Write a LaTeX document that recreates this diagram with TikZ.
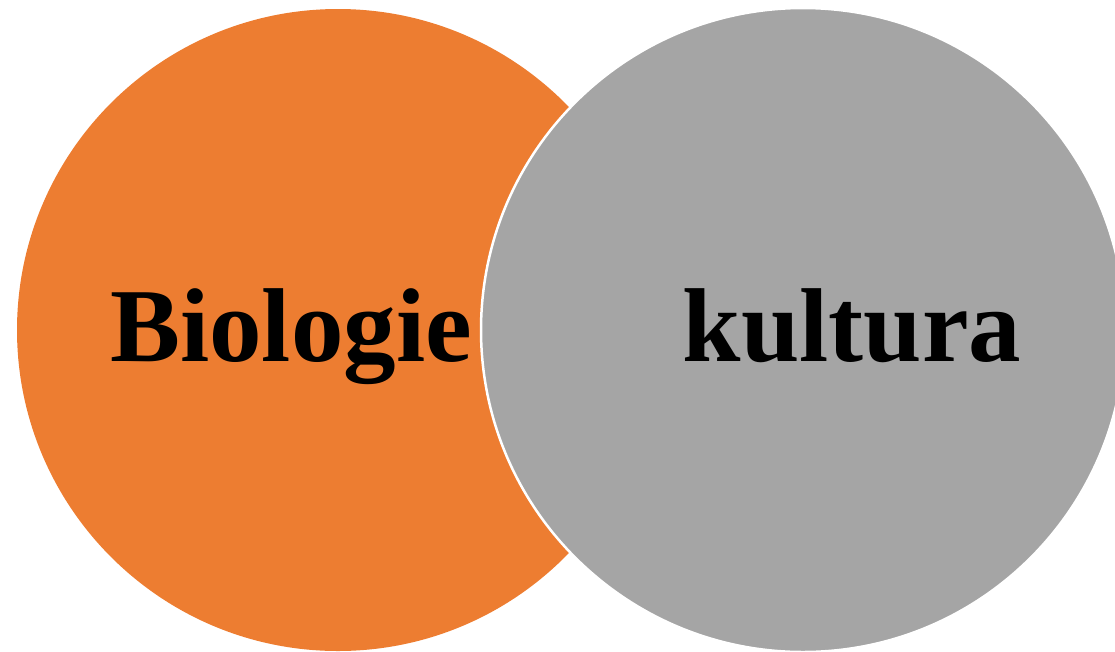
\documentclass[tikz,border=0pt]{standalone}
\usepackage{fontspec}
\setmainfont{Liberation Serif}
\definecolor{orangeA}{HTML}{ED7D31}
\definecolor{grayA}{HTML}{A5A5A5}
\begin{document}
\begin{tikzpicture}[x=1pt,y=-1pt,
  lbl/.style={font=\fontsize{105}{115}\selectfont\bfseries, text=black, inner sep=0pt, anchor=base}]
\useasboundingbox (0,0) rectangle (1115,651);
\begin{scope}
\clip (0,0) rectangle (1115,651);
\fill[orangeA] (338,330) circle[radius=321];
\filldraw[fill=grayA, draw=white, line width=2.5pt] (803,330) circle[radius=322];
\end{scope}
\node[lbl] (bio) at (291,361) {Biologie};
\node[lbl] (kul) at (852,361) {kultura};
\end{tikzpicture}
\end{document}
